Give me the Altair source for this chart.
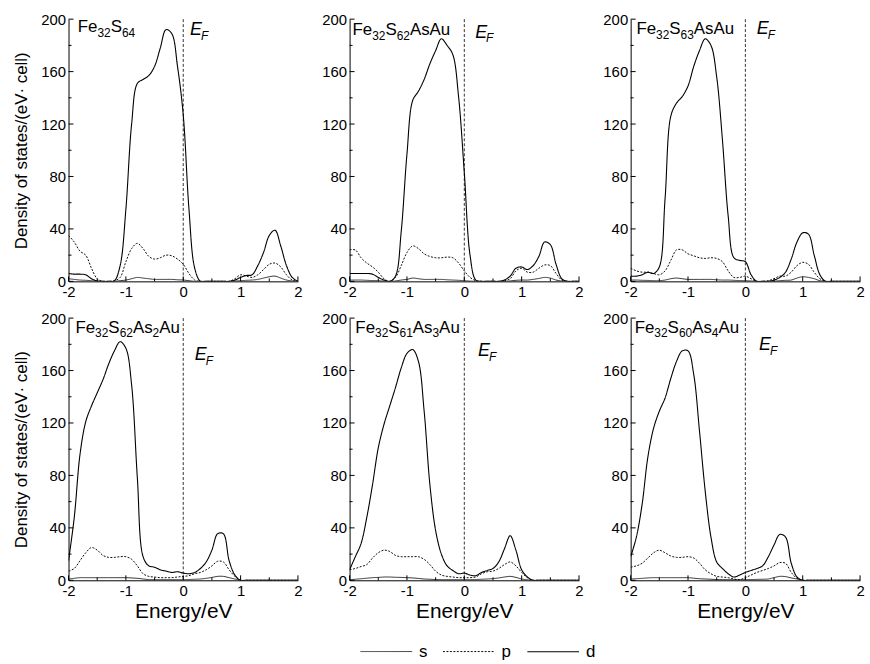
import altair as alt
import pandas as pd

FONT = "Liberation Sans"

# ---------------- data ----------------
E = [-2.0, -1.9, -1.8, -1.7, -1.6, -1.5, -1.4, -1.3, -1.2, -1.1,
     -1.0, -0.9, -0.8, -0.7, -0.6, -0.5, -0.4, -0.3, -0.2, -0.1,
     0.0, 0.1, 0.2, 0.3, 0.4, 0.5, 0.6, 0.7, 0.8, 0.9,
     1.0, 1.1, 1.2, 1.3, 1.4, 1.5, 1.6, 1.7, 1.8, 1.9, 2.0]

# Fe32S64
P1_S = [2, 1.5, 1, 0.8, 0.5, 0.2, 0, 0, 0, 0.5,
        1, 2, 3, 2.5, 2, 1.5, 1.5, 1.5, 1.5, 1.2,
        1, 0.5, 0, 0, 0, 0, 0, 0, 0, 0.3,
        0.5, 0.8, 1, 1.5, 2.5, 3.5, 4, 2.5, 1, 0.3, 0]
P1_P = [35, 30, 23, 20, 10, 2, 0, 0, 0.5, 3,
        15, 25, 29, 25, 19, 17, 18, 20, 19.5, 17,
        13, 6, 1, 0, 0, 0, 0, 0, 0, 2,
        5, 4, 3, 5, 9, 13, 14, 11, 5, 1, 0]
P1_D = [6, 5.5, 5.5, 5, 2, 0.3, 0, 0, 0.5, 12,
        55, 120, 151, 154, 157, 164, 178, 192, 189, 164,
        127, 55, 10, 0, 0, 0, 0, 0, 0, 1,
        3, 4.5, 5, 12, 22, 35, 39, 27, 12, 3, 0]

# Fe32S62AsAu
P2_S = [1, 1, 1, 0.8, 0.6, 0.5, 0.2, 0, 0.3, 1,
        1.5, 2.5, 2, 1.5, 1.5, 1.5, 1.5, 1.2, 1, 0.8,
        0.5, 0.2, 0, 0, 0, 0, 0, 0, 0.3, 0.8,
        1, 1, 1.5, 2.2, 3, 2.5, 1, 0.2, 0, 0, 0]
P2_P = [24, 24, 18, 14, 11, 7, 2, 0, 3, 12,
        22, 27, 25, 21, 19, 18, 18, 18.5, 18, 14,
        8, 3, 0.5, 0, 0, 0, 0, 0.5, 2, 8,
        10, 7, 7, 10, 12.5, 12, 6, 1, 0, 0, 0]
P2_D = [6, 6, 6, 6, 5.5, 3, 1, 0, 4, 38,
        97, 138, 145, 154, 166, 176, 185, 180, 173, 141,
        83, 20, 1, 0, 0, 0, 0, 1, 4, 10,
        11, 9, 12, 19, 30, 28, 13, 2, 0, 0, 0]

# Fe32S63AsAu
P3_S = [1, 1, 0.8, 0.7, 0.5, 0.5, 1, 2, 2.5, 2,
        1.5, 1.5, 1.5, 1.5, 1.5, 1.2, 1, 1, 0.8, 0.6,
        0.5, 0.3, 0, 0, 0, 0.2, 0.5, 0.8, 1, 2.5,
        3.5, 3, 2, 0.5, 0, 0, 0, 0, 0, 0, 0]
P3_P = [10, 8, 7, 7, 6, 5, 8, 16, 24, 24,
        21, 19.5, 18, 17.5, 18, 17.5, 15, 8, 3, 3,
        4, 2, 0, 0, 0.5, 2, 4, 4, 7, 12,
        14.5, 13, 7, 2, 0, 0, 0, 0, 0, 0, 0]
P3_D = [4, 4, 5, 7, 6, 11, 63, 126, 136, 141,
        149, 164, 176, 185, 180, 156, 108, 50, 18, 16,
        15, 5, 0, 0, 0, 1, 3, 7, 17, 30,
        37, 36, 20, 5, 0, 0, 0, 0, 0, 0, 0]

# Fe32S62As2Au
P4_S = [1, 1.5, 2, 2, 2, 2, 2, 2, 2, 2,
        2, 1.8, 1.5, 1, 0.5, 0.5, 0.5, 0.5, 0.5, 0.5,
        0.5, 0.6, 0.8, 1, 1.5, 2.2, 3, 3, 2, 1,
        0, 0, 0, 0, 0, 0, 0, 0, 0, 0, 0]
P4_P = [7, 9, 15, 21, 25, 23, 19, 17.5, 17.5, 18,
        18, 16, 11, 5, 3, 2.5, 2, 2, 2, 2.5,
        3, 3.5, 5, 6, 8, 11, 14.5, 14, 8, 3,
        0, 0, 0, 0, 0, 0, 0, 0, 0, 0, 0]
P4_D = [15, 48, 96, 121, 133, 143, 153, 165, 175, 182,
        177, 149, 78, 18, 11, 10, 8, 7, 6, 6.5,
        5.5, 5, 6, 9, 14, 23, 35.5, 35.5, 15, 4,
        0, 0, 0, 0, 0, 0, 0, 0, 0, 0, 0]

# Fe32S61As3Au
P5_S = [0.5, 0.8, 1.2, 1.6, 2, 2.2, 2.5, 2.5, 2.3, 2.2,
        2, 1.8, 1.4, 1, 0.8, 0.6, 0.5, 0.5, 0.5, 0.5,
        0.5, 0.5, 0.6, 0.8, 1, 1.3, 1.8, 2.5, 3, 2.2,
        1, 0.4, 0, 0, 0, 0, 0, 0, 0, 0, 0]
P5_P = [8, 9, 10.5, 12, 17, 21, 23, 22, 19, 18,
        18, 18, 18, 16, 12, 7, 4, 3, 2.5, 2,
        2, 2, 2.5, 5, 6.5, 7, 9, 12, 14, 11,
        6, 2, 0, 0, 0, 0, 0, 0, 0, 0, 0]
P5_D = [8, 18, 28, 48, 73, 101, 119, 133, 147, 162,
        173, 176, 167, 129, 73, 38, 20, 11, 7.5, 5,
        5.5, 4, 3.5, 6, 7.5, 9, 14, 24, 34, 23,
        8, 2.5, 0, 0, 0, 0, 0, 0, 0, 0, 0]

# Fe32S60As4Au
P6_S = [1, 1.2, 1.5, 1.8, 2, 2, 2, 2, 2, 2,
        2, 1.6, 1.2, 1, 0.8, 0.6, 0.5, 0.5, 0.5, 0.5,
        0.5, 0.6, 0.7, 0.8, 1, 2, 3, 2.8, 1.8, 1,
        0, 0, 0, 0, 0, 0, 0, 0, 0, 0, 0]
P6_P = [10, 11, 13, 17, 21, 23, 21, 18.5, 17.5, 17.5,
        18, 17, 13, 8, 5, 3, 2.5, 2, 1, 0.5,
        2, 4, 6, 7.5, 9, 11, 13.5, 13, 6, 1.5,
        0, 0, 0, 0, 0, 0, 0, 0, 0, 0, 0]
P6_D = [18, 33, 58, 94, 116, 129, 139, 154, 167, 175,
        175, 157, 114, 68, 33, 14, 9, 5, 2.5, 4,
        6, 7.5, 9, 11, 18, 27, 35, 33, 13, 2.5,
        0, 0, 0, 0, 0, 0, 0, 0, 0, 0, 0]

SERIES = [(P1_S, P1_P, P1_D), (P2_S, P2_P, P2_D), (P3_S, P3_P, P3_D),
          (P4_S, P4_P, P4_D), (P5_S, P5_P, P5_D), (P6_S, P6_P, P6_D)]

# compound names as (text, is_subscript) segments
NAMES = [
    [("Fe", 0), ("32", 1), ("S", 0), ("64", 1)],
    [("Fe", 0), ("32", 1), ("S", 0), ("62", 1), ("AsAu", 0)],
    [("Fe", 0), ("32", 1), ("S", 0), ("63", 1), ("AsAu", 0)],
    [("Fe", 0), ("32", 1), ("S", 0), ("62", 1), ("As", 0), ("2", 1), ("Au", 0)],
    [("Fe", 0), ("32", 1), ("S", 0), ("61", 1), ("As", 0), ("3", 1), ("Au", 0)],
    [("Fe", 0), ("32", 1), ("S", 0), ("60", 1), ("As", 0), ("4", 1), ("Au", 0)],
]
ORBITALS = ["s", "p", "d"]
X_TICKS = [-2, -1, 0, 1, 2]
X_MINOR = [-1.5, -0.5, 0.5, 1.5]
Y_TICKS = [0, 40, 80, 120, 160, 200]
Y_MINOR = [20, 60, 100, 140, 180]

# ---------------- layout / style ----------------
W, H = 231, 264
NAME_POS = [(-1.84, 190), (-1.95, 188), (-1.9, 189), (-1.88, 189), (-1.9, 189), (-1.93, 189)]
EF_POS = [(0.12, 188), (0.19, 186), (0.2, 189), (0.2, 168), (0.24, 171), (0.24, 176)]
CHAR_W = {"F": 0.611, "e": 0.556, "S": 0.667, "A": 0.667, "s": 0.5, "u": 0.556}
MAIN_SIZE, SUB_SIZE = 17, 12

xs = alt.Scale(domain=[-2, 2], nice=False, zero=False)
ys = alt.Scale(domain=[0, 200], nice=False)
NEG = "datum.value < 0 ? '-' + abs(datum.value) : '' + datum.value"


def xenc(show_title):
    ax = alt.Axis(values=X_TICKS, tickSize=0, labelPadding=3, labelExpr=NEG,
                  labelFlush=False, grid=False, domainColor="black",
                  labelFont=FONT, labelFontSize=15, labelColor="black",
                  titleFont=FONT, titleFontSize=21, titleFontWeight="normal",
                  titleColor="black", titlePadding=2)
    if show_title:
        return alt.X("E:Q", scale=xs, axis=ax, title="Energy/eV")
    return alt.X("E:Q", scale=xs, axis=ax, title=None)


def yenc(show_title):
    ax = alt.Axis(values=Y_TICKS, tickSize=0, labelPadding=3, labelFlush=False,
                  grid=False, domainColor="black", labelFont=FONT,
                  labelFontSize=15, labelColor="black", titleFont=FONT,
                  titleFontSize=17, titleFontWeight="normal", titleColor="black",
                  titlePadding=10)
    if show_title:
        return alt.Y("DOS:Q", scale=ys, axis=ax, title="Density of states/(eV· cell)")
    return alt.Y("DOS:Q", scale=ys, axis=ax, title=None)


def panel(i):
    s, p, d = SERIES[i]
    left = i % 3 == 0
    bottom = i >= 3
    X = xenc(bottom)
    Y = yenc(left)
    df = pd.DataFrame({
        "E": E * 3,
        "DOS": s + p + d,
        "orbital": ["s"] * len(E) + ["p"] * len(E) + ["d"] * len(E),
    })
    lines = alt.Chart(df).mark_line(interpolate="catmull-rom", clip=True, color="black").encode(
        x=X, y=Y,
        strokeDash=alt.StrokeDash(
            "orbital:N",
            scale=alt.Scale(domain=ORBITALS, range=[[1, 0], [2, 1.5], [1, 0]]),
            title=None,
            legend=alt.Legend(orient="none", legendX=293, legendY=610,
                              direction="horizontal", columns=3,
                              symbolType="stroke", symbolSize=2704,
                              symbolStrokeWidth=1.1, symbolStrokeColor="black",
                              labelFont=FONT, labelFontSize=17, labelColor="black",
                              labelOffset=6, columnPadding=13),
        ),
        strokeWidth=alt.StrokeWidth(
            "orbital:N",
            scale=alt.Scale(domain=ORBITALS, range=[0.8, 1.1, 1.4]),
            legend=None,
        ),
    )
    ef_line = alt.Chart(pd.DataFrame({"E": [0.0]})).mark_rule(
        strokeDash=[3, 2], color="#333333", strokeWidth=1).encode(x=X)
    ymaj = alt.Chart(pd.DataFrame({"DOS": Y_TICKS})).mark_rule(color="black").encode(
        y=Y, x=alt.value(0), x2=alt.value(5))
    ymin = alt.Chart(pd.DataFrame({"DOS": Y_MINOR})).mark_rule(color="black").encode(
        y=Y, x=alt.value(0), x2=alt.value(3))
    xmaj = alt.Chart(pd.DataFrame({"E": X_TICKS})).mark_rule(color="black").encode(
        x=X, y=alt.value(H), y2=alt.value(H - 5))
    xmin = alt.Chart(pd.DataFrame({"E": X_MINOR})).mark_rule(color="black").encode(
        x=X, y=alt.value(H), y2=alt.value(H - 3))

    layers = [ef_line, lines, ymaj, ymin, xmaj, xmin]

    # compound name with subscripts
    lx, ly = NAME_POS[i]
    off = 0.0
    for text, sub in NAMES[i]:
        size = SUB_SIZE if sub else MAIN_SIZE
        layers.append(
            alt.Chart(pd.DataFrame({"E": [lx], "DOS": [ly], "t": [text]})).mark_text(
                align="left", baseline="alphabetic", dx=off, dy=5 if sub else 0,
                font=FONT, fontSize=size, color="black").encode(x=X, y=Y, text="t:N"))
        off += sum(CHAR_W.get(c, 0.556) for c in text) * size

    # E_F label
    ex, ey = EF_POS[i]
    layers.append(
        alt.Chart(pd.DataFrame({"E": [ex], "DOS": [ey], "t": ["E"]})).mark_text(
            align="left", baseline="alphabetic", font=FONT, fontSize=18,
            fontStyle="italic", color="black").encode(x=X, y=Y, text="t:N"))
    layers.append(
        alt.Chart(pd.DataFrame({"E": [ex], "DOS": [ey], "t": ["F"]})).mark_text(
            align="left", baseline="alphabetic", dx=11, dy=5, font=FONT, fontSize=12,
            fontStyle="italic", color="black").encode(x=X, y=Y, text="t:N"))

    return alt.layer(*layers).properties(width=W, height=H)


chart = alt.concat(
    *[panel(i) for i in range(6)],
    columns=3,
    spacing={"row": 37, "column": 52},
    bounds="flush",
).properties(
    padding={"left": 12, "top": 10, "right": 5, "bottom": 5},
    background="white",
).configure_view(stroke=None)

chart.save("out.html", embed_options={"renderer": "svg", "actions": False})
